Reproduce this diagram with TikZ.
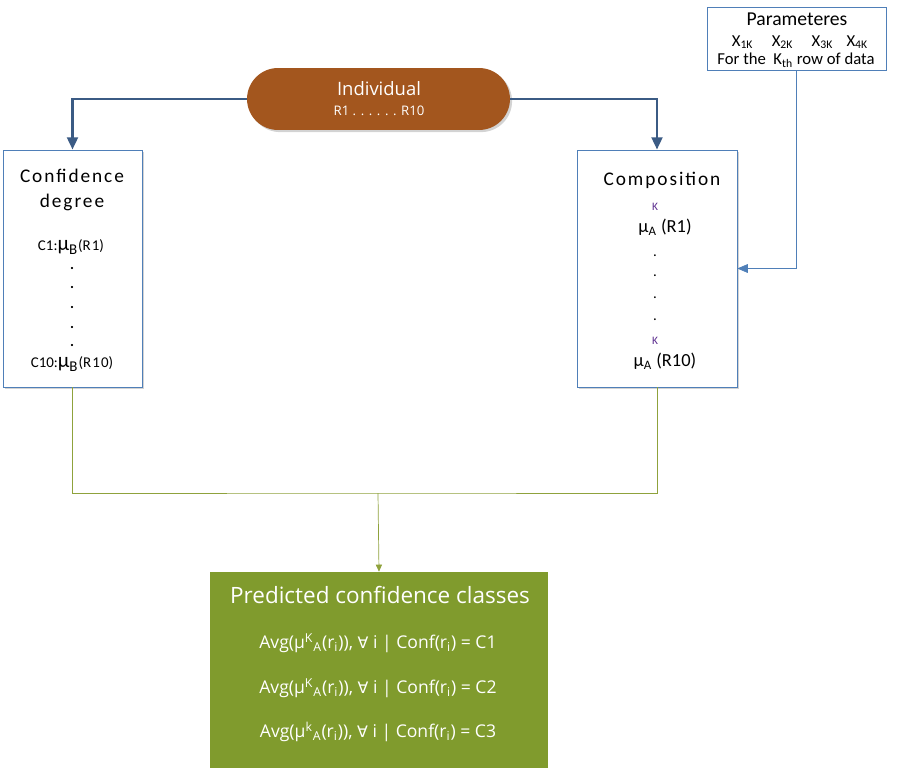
\documentclass[tikz,border=0pt]{standalone}
\usepackage{fontspec}
\setmainfont{Carlito}
\newfontfamily\segoe{Open Sans}
\newfontfamily\symfont{DejaVu Sans}
\usetikzlibrary{positioning,arrows.meta,shadows}

\definecolor{boxblue}{HTML}{4F7FB8}
\definecolor{linkblue}{HTML}{3B5B84}
\definecolor{brownfill}{HTML}{A3561E}
\definecolor{olivefill}{HTML}{809B2D}
\definecolor{olivewire}{HTML}{8FA23C}
\definecolor{kpurple}{HTML}{5B2C8F}

\tikzset{
  boxshadow/.style={drop shadow={opacity=0.35,shadow xshift=1.2pt,shadow yshift=-1.2pt}},
  spaced/.style={font=\fontsize{11}{13}\selectfont\addfontfeature{LetterSpace=10}},
  small/.style={font=\fontsize{8.5}{10}\selectfont},
}

\begin{document}
\begin{tikzpicture}[x=0.02cm,y=-0.02cm]
\useasboundingbox (0,0) rectangle (900,771);
	\begin{scope}[every node/.style={draw=boxblue,fill=white,thin,inner sep=0pt}]
		\node[minimum width=3.58cm,minimum height=1.26cm] (P) at (796.5,38.5) {};
		\node[boxshadow,minimum width=2.78cm,minimum height=4.74cm] (C) at (72.5,268.5) {};
		\node[boxshadow,minimum width=3.2cm,minimum height=4.74cm] (M) at (657,268.5) {};
	\end{scope}
	\node[boxshadow,fill=brownfill,draw=none,rounded corners=0.62cm,minimum width=5.26cm,minimum height=1.24cm] (I) at (378.5,99) {};
	\node[fill=olivefill,draw=none,minimum width=6.76cm,minimum height=3.92cm] (G) at (379,670) {};
	% texts
	\node[font=\fontsize{11.2}{13}\selectfont] (Pt) at (797,19) {Parameteres};
	\node[font=\fontsize{9.5}{11}\selectfont] (Px) at (800,42) {X\textsubscript{1K}\hspace{1.1em}X\textsubscript{2K}\hspace{1.1em}X\textsubscript{3K}\hspace{0.8em}X\textsubscript{4K}};
	\node[font=\fontsize{9.5}{11}\selectfont] (Pr) at (796,60) {For the\ \ K\textsubscript{th} row of data};
	\node[text=white,font=\segoe\fontsize{10.5}{12}\selectfont] (It) at (379,89) {Individual};
	\node[text=white,font=\segoe\fontsize{7.5}{9}\selectfont] (Ir) at (379,111) {R1 . . . . . . R10};
	\node[spaced] (Ct) at (72,176) {Confidence};
	\node[spaced] (Cd) at (72,202) {degree};
	\node[small] (C1) at (71,247) {C1:{\fontsize{12}{13}\selectfont µ}\textsubscript{\fontsize{8.5}{10}\selectfont B}({\addfontfeature{LetterSpace=8}R1})};
	\foreach \y [count=\i] in {268,287,307,327,345}
		\node[small] (Cdot\i) at (72,\y) {\textbf{.}};
	\node[small] (C10) at (72,364) {C10:{\fontsize{12}{13}\selectfont µ}\textsubscript{\fontsize{8.5}{10}\selectfont B}({\addfontfeature{LetterSpace=8}R10})};
	\node[spaced] (Mt) at (662,180) {Composition};
	\node[text=kpurple,font=\fontsize{6.5}{7}\selectfont] (Mk1) at (655,207) {K};
	\node[font=\fontsize{10.5}{12}\selectfont] (M1) at (665,227) {µ\textsubscript{A} (R1)};
	\foreach \y [count=\i] in {256,276,298,320}
		\node[small] (Mdot\i) at (655,\y) {.};
	\node[text=kpurple,font=\fontsize{6.5}{7}\selectfont] (Mk2) at (655,341) {K};
	\node[font=\fontsize{10.5}{12}\selectfont] (M10) at (665,361) {µ\textsubscript{A} (R10)};
	\node[text=white,font=\segoe\fontsize{12.8}{14}\selectfont] (Gt) at (380,595) {Predicted confidence classes};
	\foreach \c/\k/\y in {1/K/643,2/K/688,3/k/732}
		\node[text=white,font=\segoe\fontsize{10}{12}\selectfont] (G\c) at (378,\y)
			{Avg(µ\textsuperscript{\k}\textsubscript{A}(r\textsubscript{i})), {\symfont\fontsize{9}{10}\selectfont ∀} i | Conf(r\textsubscript{i}) = C\c};
	% connectors
	\coordinate (J) at (378,493);
	\begin{scope}[line width=1.7pt,draw=linkblue,-{Triangle[length=7pt,width=6pt]}]
		\draw (I.west) -| (C.north);
		\draw (I.east) -| (M.north);
	\end{scope}
	\draw[boxblue,-{Triangle[length=6pt,width=5pt]}] (P.south) |- (M.east);
	\begin{scope}[olivewire,thin]
		\draw (C.south) |- (J) -| (M.south);
		\draw[-{Triangle[length=4pt,width=3.5pt]}] (J) -- (G.north);
	\end{scope}
\end{tikzpicture}
\end{document}
